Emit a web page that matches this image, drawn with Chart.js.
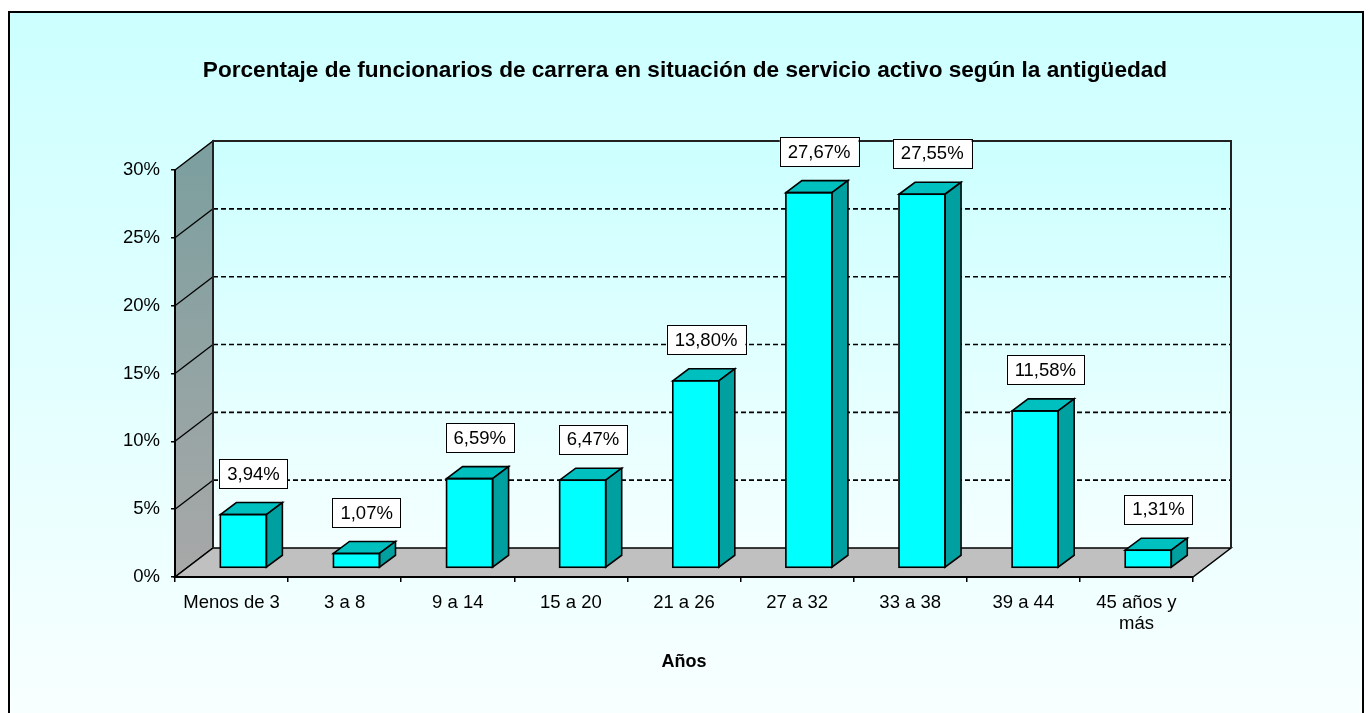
<!DOCTYPE html>
<html><head><meta charset="utf-8">
<script src="https://cdn.jsdelivr.net/npm/chart.js@4.4.1/dist/chart.umd.min.js"></script>
<style>html,body{margin:0;padding:0;background:#fff}#wrap{width:1370px;height:713px}</style>
</head><body><div id="wrap"><canvas id="c" width="1370" height="713"></canvas></div>
<script>
// ---- data ----
const categories = ['Menos de 3', '3 a 8', '9 a 14', '15 a 20', '21 a 26', '27 a 32', '33 a 38', '39 a 44', ['45 años y', 'más']];
const percentages = [3.94, 1.07, 6.59, 6.47, 13.80, 27.67, 27.55, 11.58, 1.31];
const yTickValues = [0, 5, 10, 15, 20, 25, 30];
const chartTitle = 'Porcentaje de funcionarios de carrera en situación de servicio activo según la antigüedad';
const xAxisTitle = 'Años';

// ---- style ----
const FONT = "'Liberation Sans', Arial, sans-serif";
const DEPTH = {dx: 38, dy: -29};
const BAR3D = {dx: 16, dy: -12, shiftX: 11.8, shiftY: -9};
const LABEL = {dx: 22, dy: -50, h: 29, padX: 8};

const fmt = v => v.toFixed(2).replace('.', ',') + '%';

const scene = {
  id: 'scene',
  beforeDraw(chart) {
    const ctx = chart.ctx, xs = chart.scales.x, ys = chart.scales.y;
    ctx.save();
    ctx.fillStyle = '#ffffff';
    ctx.fillRect(0, 0, chart.width, chart.height);
    const g = ctx.createLinearGradient(0, 12, 0, chart.height);
    g.addColorStop(0, '#CCFFFF'); g.addColorStop(1, '#F8FFFF');
    ctx.fillStyle = g;
    ctx.fillRect(9, 12, 1354, chart.height - 12);
    ctx.fillStyle = '#000';
    ctx.fillRect(8, 11, 2, chart.height - 11);
    ctx.fillRect(8, 11, 1356, 2);
    ctx.fillRect(1362, 11, 2, chart.height - 11);

    const L = xs.left, R = xs.right;
    const y0 = ys.getPixelForValue(ys.min), yT = ys.getPixelForValue(ys.max);
    const dx = DEPTH.dx, dy = DEPTH.dy;
    // back wall
    const bw = ctx.createLinearGradient(0, yT + dy, 0, y0 + dy);
    bw.addColorStop(0, '#CCFFFF'); bw.addColorStop(1, '#F4FFFF');
    ctx.fillStyle = bw;
    ctx.fillRect(L + dx, yT + dy, R - L, y0 - yT);
    // left wall
    const lw = ctx.createLinearGradient(0, yT, 0, y0);
    lw.addColorStop(0, '#7E9F9F'); lw.addColorStop(1, '#A8A8A8');
    ctx.fillStyle = lw;
    ctx.beginPath();
    ctx.moveTo(L, y0); ctx.lineTo(L, yT); ctx.lineTo(L + dx, yT + dy); ctx.lineTo(L + dx, y0 + dy); ctx.closePath();
    ctx.fill();
    ctx.strokeStyle = '#000'; ctx.lineWidth = 1.5; ctx.stroke();
    // floor
    ctx.fillStyle = '#C0C0C0';
    ctx.beginPath();
    ctx.moveTo(L, y0); ctx.lineTo(R, y0); ctx.lineTo(R + dx, y0 + dy); ctx.lineTo(L + dx, y0 + dy); ctx.closePath();
    ctx.fill(); ctx.stroke();
    // gridlines
    yTickValues.forEach(v => {
      if (v === ys.min || v === ys.max) return;
      const py = ys.getPixelForValue(v);
      ctx.setLineDash([5, 3]);
      ctx.lineWidth = 1.6;
      ctx.beginPath(); ctx.moveTo(L + dx, py + dy); ctx.lineTo(R + dx, py + dy); ctx.stroke();
      ctx.setLineDash([]);
      ctx.lineWidth = 1.3;
      ctx.beginPath(); ctx.moveTo(L, py); ctx.lineTo(L + dx, py + dy); ctx.stroke();
    });
    // back wall outline
    ctx.setLineDash([]);
    ctx.strokeStyle = '#222'; ctx.lineWidth = 2;
    ctx.beginPath();
    ctx.moveTo(L + dx, y0 + dy); ctx.lineTo(L + dx, yT + dy); ctx.lineTo(R + dx, yT + dy); ctx.lineTo(R + dx, y0 + dy);
    ctx.stroke();
    ctx.restore();
  },
  beforeDatasetsDraw(chart) {
    chart.ctx.save();
    chart.ctx.translate(BAR3D.shiftX, BAR3D.shiftY);
  },
  afterDatasetsDraw(chart) {
    const ctx = chart.ctx;
    const meta = chart.getDatasetMeta(0);
    ctx.lineWidth = 1.6; ctx.strokeStyle = '#000'; ctx.lineJoin = 'miter';
    meta.data.forEach(bar => {
      const {x, y, width, base} = bar.getProps(['x', 'y', 'width', 'base'], true);
      const l = x - width / 2, r = x + width / 2, bx = BAR3D.dx, by = BAR3D.dy;
      ctx.fillStyle = '#00BFBF';
      ctx.beginPath();
      ctx.moveTo(l, y); ctx.lineTo(l + bx, y + by); ctx.lineTo(r + bx, y + by); ctx.lineTo(r, y); ctx.closePath();
      ctx.fill(); ctx.stroke();
      ctx.fillStyle = '#00A0A0';
      ctx.beginPath();
      ctx.moveTo(r, y); ctx.lineTo(r + bx, y + by); ctx.lineTo(r + bx, base + by); ctx.lineTo(r, base); ctx.closePath();
      ctx.fill(); ctx.stroke();
      ctx.strokeRect(l, y, width, base - y);
    });
    ctx.restore();
    // data labels
    const xs = chart.scales.x, ys = chart.scales.y;
    ctx.save();
    ctx.font = '18.5px ' + FONT;
    ctx.textAlign = 'center'; ctx.textBaseline = 'middle';
    percentages.forEach((v, i) => {
      const cx = xs.getPixelForValue(i) + LABEL.dx;
      const cy = ys.getPixelForValue(v) + LABEL.dy;
      const t = fmt(v);
      const w = ctx.measureText(t).width + LABEL.padX * 2;
      ctx.fillStyle = '#fff';
      ctx.fillRect(cx - w / 2, cy - LABEL.h / 2, w, LABEL.h);
      ctx.strokeStyle = '#000'; ctx.lineWidth = 1;
      ctx.strokeRect(Math.round(cx - w / 2) + 0.5, Math.round(cy - LABEL.h / 2) + 0.5, Math.round(w), LABEL.h);
      ctx.fillStyle = '#000';
      ctx.fillText(t, cx, cy + 1);
    });
    ctx.restore();
  }
};

Chart.defaults.color = '#000';
Chart.defaults.font.family = FONT;

new Chart(document.getElementById('c'), {
  type: 'bar',
  data: {
    labels: categories,
    datasets: [{
      data: percentages,
      backgroundColor: '#00FFFF',
      borderColor: '#000',
      borderWidth: 0,
      categoryPercentage: 1,
      barPercentage: 0.407,
      clip: false
    }]
  },
  options: {
    responsive: false,
    animation: false,
    devicePixelRatio: 1,
    layout: {padding: 0},
    plugins: {
      legend: {display: false},
      tooltip: {enabled: false},
      title: {
        display: true,
        text: chartTitle,
        font: {size: 22.6, weight: 'bold', family: FONT},
        color: '#000',
        padding: {top: 57.4, bottom: 85.5}
      }
    },
    scales: {
      x: {
        grid: {display: true, drawOnChartArea: false, drawTicks: true, tickLength: 5, color: '#000', lineWidth: 1.5, offset: true},
        border: {display: true, color: '#000', width: 2},
        ticks: {font: {size: 18.5, family: FONT, lineHeight: 1.1}, padding: 11, maxRotation: 0, autoSkip: false},
        title: {display: true, text: xAxisTitle, font: {size: 18, weight: 'bold', family: FONT}, padding: {top: 0, bottom: 40}},
        afterFit: s => { s.height = 136; }
      },
      y: {
        min: yTickValues[0],
        max: yTickValues[yTickValues.length - 1],
        grid: {display: true, drawOnChartArea: false, drawTicks: true, tickLength: 4, color: '#000', lineWidth: 1.5},
        border: {display: true, color: '#000', width: 2},
        ticks: {stepSize: 5, font: {size: 18.5, family: FONT}, padding: 11, callback: v => v + '%'},
        afterFit: s => { s.width = 175; }
      },
      yRight: {
        position: 'right',
        display: true,
        grid: {display: false},
        border: {display: false},
        ticks: {display: false},
        afterFit: s => { s.width = 177; }
      }
    }
  },
  plugins: [scene]
});
</script>
</body></html>
